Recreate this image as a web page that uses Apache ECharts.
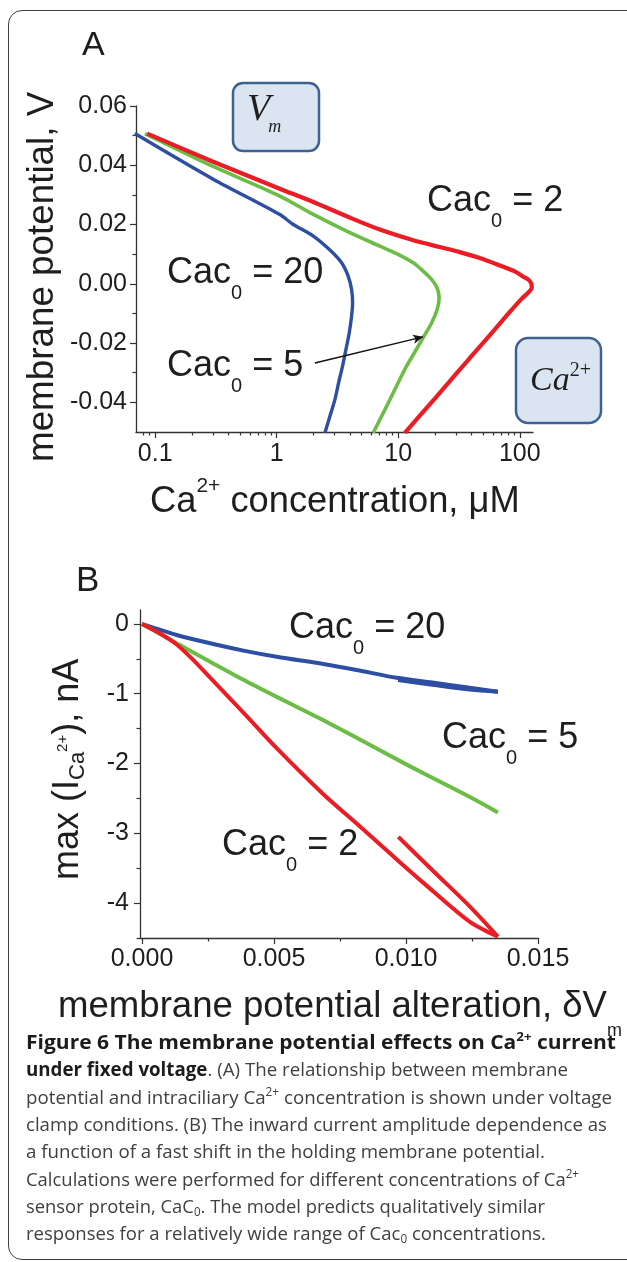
<!DOCTYPE html>
<html>
<head>
<meta charset="utf-8">
<script src="https://cdn.jsdelivr.net/npm/echarts@6/dist/echarts.min.js"></script>
<style>
html,body{margin:0;padding:0;background:#fff;}
#wrap{position:relative;width:627px;height:1262px;overflow:hidden;background:#fff;}
#chart{position:absolute;left:0;top:0;width:627px;height:1262px;}
#frame{position:absolute;left:8px;top:10px;width:700px;height:1250px;border:1.5px solid #404040;border-radius:14px;box-sizing:border-box;pointer-events:none;}
.cap{position:absolute;left:26px;white-space:nowrap;font-family:"Open Sans",sans-serif;font-size:19px;line-height:19px;color:#404040;transform-origin:0 0;}
.cap b{color:#1c1c1c;font-weight:700;}
.cap sup{font-size:12px;vertical-align:8px;line-height:0;}
.cap sub{font-size:12px;vertical-align:-3px;line-height:0;}
</style>
</head>
<body>
<div id="wrap">
  <div id="chart"></div>
  <div id="frame"></div>
  <div class="cap"><b>Figure 6 The membrane potential effects on Ca<sup>2+</sup> current</b></div>
  <div class="cap"><b>under fixed voltage</b>. (A) The relationship between membrane</div>
  <div class="cap">potential and intraciliary Ca<sup>2+</sup> concentration is shown under voltage</div>
  <div class="cap">clamp conditions. (B) The inward current amplitude dependence as</div>
  <div class="cap">a function of a fast shift in the holding membrane potential.</div>
  <div class="cap">Calculations were performed for different concentrations of Ca<sup>2+</sup></div>
  <div class="cap">sensor protein, CaC<sub>0</sub>. The model predicts qualitatively similar</div>
  <div class="cap">responses for a relatively wide range of Cac<sub>0</sub> concentrations.</div>
</div>
<script>
// ---------------- Panel A: membrane potential (V) vs Ca2+ concentration (uM) ----------------
const caA20 = [0.068, 0.30, 1.06, 1.35, 2.0, 2.74, 3.42, 3.87, 4.13, 4.21, 4.13, 3.95, 3.71, 3.48, 3.23, 3.01, 2.74, 2.49];
const vA20  = [0.0507, 0.0353, 0.0234, 0.0202, 0.0161, 0.0114, 0.0071, 0.0026, -0.0019, -0.0064, -0.0109, -0.0166, -0.0222, -0.0278, -0.0334, -0.0391, -0.0447, -0.0503];

const caA5 = [0.0824, 0.30, 1.06, 2.0, 3.76, 7.06, 9.68, 13.3, 16.0, 18.8, 20.9, 21.7, 20.9, 18.8, 16.0, 13.7, 11.7, 9.98, 8.53, 7.29, 6.22];
const vA5  = [0.0507, 0.0396, 0.0296, 0.0234, 0.0178, 0.0127, 0.0102, 0.0071, 0.0043, 0.0015, -0.0014, -0.0047, -0.0087, -0.0132, -0.0182, -0.0230, -0.0278, -0.0334, -0.0391, -0.0447, -0.0503];

const caA2 = [0.086, 0.30, 1.06, 2.0, 3.76, 7.06, 13.3, 22.0, 32.1, 46.9, 68.5, 91.0, 107.9, 118.6, 124.3, 125.6, 118.6, 103.9, 82.8, 62.3, 46.9, 35.3, 26.6, 20.0, 15.05, 11.33];
const vA2  = [0.0507, 0.0412, 0.0321, 0.0276, 0.0228, 0.0183, 0.0147, 0.0124, 0.0107, 0.0087, 0.0062, 0.0042, 0.0023, 0.0013, 0.0001, -0.0013, -0.0028, -0.0050, -0.0095, -0.0154, -0.0212, -0.0270, -0.0328, -0.0387, -0.0445, -0.0503];

const arrowFromA = [2.06, -0.0267];
const arrowToA   = [16.0, -0.0179];

const xRangeA = [0.0695, 128.5];
const yRangeA = [-0.05, 0.06];
const xTickValsA   = [0.1, 1, 10, 100];
const xTickLabelsA = ['0.1', '1', '10', '100'];
const xMinorValsA  = [0.08, 0.09, 0.2, 0.3, 0.4, 0.5, 0.6, 0.7, 0.8, 0.9, 2, 3, 4, 5, 6, 7, 8, 9, 20, 30, 40, 50, 60, 70, 80, 90];
const yTickValsA   = [-0.04, -0.02, 0, 0.02, 0.04, 0.06];
const yTickLabelsA = ['-0.04', '-0.02', '0.00', '0.02', '0.04', '0.06'];
const yMinorValsA  = [-0.03, -0.01, 0.01, 0.03, 0.05];

// ---------------- Panel B: max(I_Ca) (nA) vs membrane potential alteration ----------------
const dvB20  = [0, 0.00131, 0.00258, 0.00384, 0.0051, 0.00687, 0.00813, 0.00965, 0.0110, 0.01242, 0.01348];
const iB20   = [0, -0.158, -0.277, -0.382, -0.47, -0.575, -0.66, -0.772, -0.84, -0.915, -0.97];
const dvB20r = [0.01348, 0.01242, 0.0110, 0.0097];
const iB20r  = [-0.97, -0.94, -0.87, -0.805];

const dvB5 = [0, 0.00131, 0.00258, 0.00384, 0.0051, 0.0060, 0.00687, 0.00813, 0.0094, 0.01066, 0.01242, 0.01348];
const iB5  = [0, -0.275, -0.54, -0.80, -1.045, -1.215, -1.38, -1.63, -1.89, -2.14, -2.48, -2.70];

const dvB2  = [0, 0.0007, 0.0013, 0.0019, 0.00258, 0.00384, 0.0051, 0.00687, 0.00813, 0.0094, 0.01066, 0.01242, 0.01348];
const iB2   = [0, -0.14, -0.29, -0.50, -0.77, -1.27, -1.78, -2.44, -2.86, -3.29, -3.71, -4.27, -4.48];
const dvB2r = [0.01348, 0.01242, 0.01103, 0.00971];
const iB2r  = [-4.48, -4.05, -3.54, -3.05];

const xRangeB = [-0.0000758, 0.015];
const yRangeB = [-4.5, 0.2];
const xTickValsB   = [0, 0.005, 0.010, 0.015];
const xTickLabelsB = ['0.000', '0.005', '0.010', '0.015'];
const xMinorValsB  = [0.0025, 0.0075, 0.0125];
const yTickValsB   = [-4, -3, -2, -1, 0];
const yTickLabelsB = ['-4', '-3', '-2', '-1', '0'];
const yMinorValsB  = [-4.5, -3.5, -2.5, -1.5, -0.5];

// ---------------- styling ----------------
const BLUE = '#2d4ea2', GREEN = '#6bbd45', RED = '#ec1c24', INK = '#1e1e1e', AXIS = '#333333';
const SANS = 'Liberation Sans', SERIF = 'Liberation Serif';
const lg = Math.log10;
const GRID_A = { left: 136, top: 106, width: 397, height: 326 };
const GRID_B = { left: 140, top: 610, width: 398, height: 328 };

function pairs(xs, ys, fx) { return xs.map((x, i) => [fx ? fx(x) : x, ys[i]]); }
function lookup(vals, labels, fx) {
  return v => { for (let i = 0; i < vals.length; i++) { const t = fx ? fx(vals[i]) : vals[i]; if (Math.abs(t - v) < 1e-7) return labels[i]; } return ''; };
}

function majorAxis(grid, pos, min, max, vals, labels, fx, margin) {
  const tv = fx ? vals.map(fx) : vals.slice();
  return {
    gridIndex: grid, position: pos, type: 'value', min, max,
    axisLine: { show: true, onZero: false, lineStyle: { color: AXIS, width: 1.3 } },
    axisTick: { show: true, inside: false, length: 6, customValues: tv, lineStyle: { color: AXIS, width: 1.2 } },
    axisLabel: { show: true, customValues: tv, formatter: lookup(vals, labels, fx), fontFamily: SANS, fontSize: 25, color: INK, margin },
    splitLine: { show: false }, minorTick: { show: false }
  };
}
// minor-tick axis placed on the opposite side and shifted back onto the main axis line
function minorAxis(grid, pos, offset, min, max, vals, fx) {
  const tv = fx ? vals.map(fx) : vals.slice();
  return {
    gridIndex: grid, position: pos, offset, type: 'value', min, max,
    axisLine: { show: false, onZero: false },
    axisTick: { show: true, inside: true, length: 3.5, customValues: tv, lineStyle: { color: AXIS, width: 1.2 } },
    axisLabel: { show: false },
    splitLine: { show: false }
  };
}

const mctx = document.createElement('canvas').getContext('2d');
function rich(parts, x, y, rotation) {
  let cx = 0; const children = [];
  parts.forEach(p => {
    const fam = p.serif ? SERIF : SANS;
    const fst = p.it ? 'italic' : 'normal';
    mctx.font = fst + ' ' + p.s + 'px "' + fam + '"';
    const w = mctx.measureText(p.t).width;
    children.push({
      type: 'text', x: cx + (p.dx || 0), y: (p.dy || 0) - (p.serif ? 0.34 : 0.345) * p.s,
      style: { text: p.t, fontSize: p.s, fontFamily: fam, fontStyle: fst, fill: p.c || INK,
               align: 'left', verticalAlign: 'middle', textAlign: 'left', textVerticalAlign: 'middle' }
    });
    cx += w + (p.dx || 0);
  });
  return { type: 'group', x, y, rotation: rotation || 0, silent: true, children };
}
function cacLabel(val, x, y) {
  return rich([{ t: 'Cac', s: 36 }, { t: '0', s: 20, dy: 15 }, { t: ' = ' + val, s: 36 }], x, y);
}

const chart = echarts.init(document.getElementById('chart'), null, { renderer: 'canvas' });
chart.setOption({
  animation: false,
  backgroundColor: 'transparent',
  grid: [GRID_A, GRID_B],
  xAxis: [
    majorAxis(0, 'bottom', lg(xRangeA[0]), lg(xRangeA[1]), xTickValsA, xTickLabelsA, lg, 10),
    minorAxis(0, 'top', -GRID_A.height, lg(xRangeA[0]), lg(xRangeA[1]), xMinorValsA, lg),
    majorAxis(1, 'bottom', xRangeB[0], xRangeB[1], xTickValsB, xTickLabelsB, null, 9),
    minorAxis(1, 'top', -GRID_B.height, xRangeB[0], xRangeB[1], xMinorValsB, null)
  ],
  yAxis: [
    majorAxis(0, 'left', yRangeA[0], yRangeA[1], yTickValsA, yTickLabelsA, null, 9),
    minorAxis(0, 'right', -GRID_A.width, yRangeA[0], yRangeA[1], yMinorValsA, null),
    majorAxis(1, 'left', yRangeB[0], yRangeB[1], yTickValsB, yTickLabelsB, null, 11),
    minorAxis(1, 'right', -GRID_B.width, yRangeB[0], yRangeB[1], yMinorValsB, null)
  ],
  series: [
    { name: 'A Cac0=20', type: 'line', xAxisIndex: 0, yAxisIndex: 0, data: pairs(caA20, vA20, lg), showSymbol: false, symbol: 'none', smooth: 0.3, lineStyle: { color: BLUE, width: 3.4 }, silent: true },
    { name: 'A Cac0=5', type: 'line', xAxisIndex: 0, yAxisIndex: 0, data: pairs(caA5, vA5, lg), showSymbol: false, symbol: 'none', smooth: 0.3, lineStyle: { color: GREEN, width: 3.6 }, silent: true,
      markLine: { silent: true, animation: false, symbol: ['none', 'arrow'], symbolSize: [7, 10], label: { show: false },
        lineStyle: { color: '#111', width: 1.5, type: 'solid' }, emphasis: { disabled: true },
        data: [[{ coord: [lg(arrowFromA[0]), arrowFromA[1]] }, { coord: [lg(arrowToA[0]), arrowToA[1]] }]] } },
    { name: 'A Cac0=2', type: 'line', xAxisIndex: 0, yAxisIndex: 0, data: pairs(caA2, vA2, lg), showSymbol: false, symbol: 'none', smooth: 0.3, lineStyle: { color: RED, width: 4.2 }, silent: true },

    { name: 'B Cac0=20', type: 'line', xAxisIndex: 2, yAxisIndex: 2, data: pairs(dvB20, iB20), showSymbol: false, symbol: 'none', smooth: 0.3, lineStyle: { color: BLUE, width: 4 }, silent: true },
    { name: 'B Cac0=20 return', type: 'line', xAxisIndex: 2, yAxisIndex: 2, data: pairs(dvB20r, iB20r), showSymbol: false, symbol: 'none', smooth: 0.3, lineStyle: { color: BLUE, width: 4 }, silent: true },
    { name: 'B Cac0=5', type: 'line', xAxisIndex: 2, yAxisIndex: 2, data: pairs(dvB5, iB5), showSymbol: false, symbol: 'none', smooth: 0.3, lineStyle: { color: GREEN, width: 4 }, silent: true },
    { name: 'B Cac0=2', type: 'line', xAxisIndex: 2, yAxisIndex: 2, data: pairs(dvB2, iB2), showSymbol: false, symbol: 'none', smooth: 0.3, lineStyle: { color: RED, width: 4 }, silent: true },
    { name: 'B Cac0=2 return', type: 'line', xAxisIndex: 2, yAxisIndex: 2, data: pairs(dvB2r, iB2r), showSymbol: false, symbol: 'none', smooth: 0.3, lineStyle: { color: RED, width: 4 }, silent: true }
  ],
  graphic: [
    rich([{ t: 'A', s: 34 }], 82, 57),
    rich([{ t: 'B', s: 35 }], 76, 593),
    // panel A axis titles
    rich([{ t: 'membrane potential, V', s: 36.8 }], 56, 462, Math.PI / 2),
    rich([{ t: 'Ca', s: 36.3 }, { t: '2+', s: 21, dy: -22 }, { t: ' concentration, \u03bcM', s: 36.3 }], 150, 515),
    // panel A boxes
    { type: 'rect', silent: true, shape: { x: 233, y: 83, width: 86, height: 68, r: 10 }, style: { fill: '#dbe5f1', stroke: '#3d6290', lineWidth: 2.5 } },
    rich([{ t: 'V', s: 38, serif: true, it: true }, { t: 'm', s: 18, serif: true, it: true, dy: 10, dx: -2 }], 247, 123),
    { type: 'rect', silent: true, shape: { x: 516, y: 338, width: 85, height: 85, r: 12 }, style: { fill: '#dbe5f1', stroke: '#3d6290', lineWidth: 2.5 } },
    rich([{ t: 'Ca', s: 34, serif: true, it: true }, { t: '2+', s: 20, serif: true, dy: -15 }], 530, 393),
    // panel A curve labels
    cacLabel('2', 427, 213),
    cacLabel('20', 167, 285),
    cacLabel('5', 167, 378),
    // panel B axis titles
    rich([{ t: 'max (I', s: 36 }, { t: 'Ca', s: 22, dy: 6 }, { t: '2+', s: 15, dy: -12 }, { t: '), nA', s: 36 }], 80, 880, Math.PI / 2),
    rich([{ t: 'membrane potential alteration, \u03b4V', s: 36.6 }, { t: 'm', s: 18, dy: 17 }], 58, 1020),
    // panel B curve labels
    cacLabel('20', 289, 640),
    cacLabel('5', 442, 750),
    cacLabel('2', 222, 857)
  ]
});

// caption lines: baselines and right edges
const capBaseline0 = 1050, capPitch = 27.3;
const capRight = [616, 568, 612, 607, 545, 579, 545, 546];
document.querySelectorAll('.cap').forEach((el, i) => {
  el.style.top = (capBaseline0 + capPitch * i - 17) + 'px';
  const w = el.getBoundingClientRect().width;
  el.style.transform = 'scaleX(' + ((capRight[i] - 26) / w) + ')';
});
</script>
</body>
</html>
